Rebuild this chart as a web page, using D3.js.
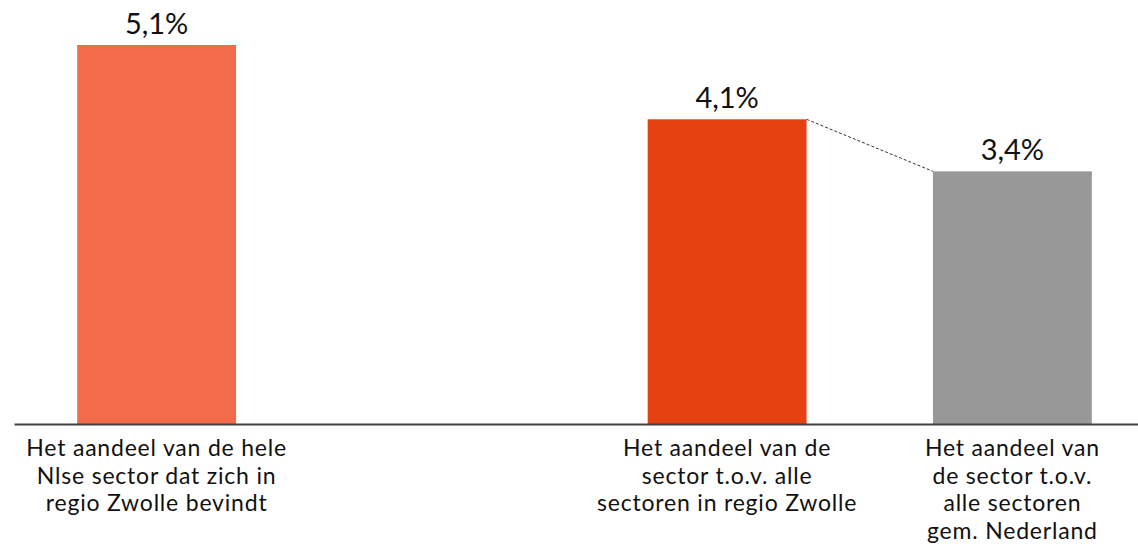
<!DOCTYPE html>
<html>
<head>
<meta charset="utf-8">
<script src="https://cdn.jsdelivr.net/npm/d3@7"></script>
<style>
  body { margin: 0; background: #fff; }
  svg { font-family: Lato, "Open Sans", sans-serif; }
</style>
</head>
<body>
<svg width="1138" height="552"></svg>
<script>
// data
const categories = ["hele", "gap", "zwolle", "nederland"];
const values = [5.1, null, 4.1, 3.4];
const valueLabels = ["5,1%", "", "4,1%", "3,4%"];
const barColors = ["#F26C4C", "none", "#E54111", "#989898"];
const labelLines = [
  ["Het aandeel van de hele", "Nlse sector dat zich in", "regio Zwolle bevindt"],
  [],
  ["Het aandeel van de", "sector t.o.v. alle", "sectoren in regio Zwolle"],
  ["Het aandeel van", "de sector t.o.v.", "alle sectoren", "gem. Nederland"]
];

let svg = d3.select("svg");
let baseY = 424;

let x = d3.scaleBand().domain(categories).range([14, 1155])
  .paddingInner(0.443).paddingOuter(0.2215);
let y = d3.scaleLinear().domain([0, 5.1]).range([baseY, 45]);

let rows = categories.map((c, i) => ({ cat: c, value: values[i], label: valueLabels[i], color: barColors[i], lines: labelLines[i] }))
  .filter(d => d.value != null);

svg.append("g")
  .selectAll("rect")
  .data(rows)
  .enter().append("rect")
  .attr("x", d => x(d.cat))
  .attr("y", d => y(d.value))
  .attr("width", x.bandwidth())
  .attr("height", d => baseY - y(d.value))
  .attr("fill", d => d.color);

// dashed connector between the last two bars
let a = rows[1], b = rows[2];
svg.append("line")
  .attr("x1", x(a.cat) + x.bandwidth())
  .attr("y1", y(a.value))
  .attr("x2", x(b.cat))
  .attr("y2", y(b.value))
  .attr("stroke", "#333")
  .attr("stroke-width", 1)
  .attr("stroke-dasharray", "3,2");

// value labels
svg.append("g")
  .selectAll("text")
  .data(rows)
  .enter().append("text")
  .attr("x", d => x(d.cat) + x.bandwidth() / 2)
  .attr("y", d => y(d.value) - 11)
  .attr("text-anchor", "middle")
  .attr("font-size", "29px")
  .attr("fill", "#111")
  .text(d => d.label);

// axis line
let xAxis = d3.axisBottom(x).tickSize(0).tickFormat("");
let ax = svg.append("g")
  .attr("transform", `translate(0, ${baseY})`)
  .call(xAxis);
ax.select(".domain").attr("stroke", "#404040").attr("stroke-width", 2);

// category labels
let lab = svg.append("g")
  .selectAll("text")
  .data(rows)
  .enter().append("text")
  .attr("x", d => x(d.cat) + x.bandwidth() / 2)
  .attr("y", baseY + 32)
  .attr("text-anchor", "middle")
  .attr("font-size", "23px")
  .attr("letter-spacing", "0.8px")
  .attr("fill", "#111");

lab.selectAll("tspan")
  .data(d => d.lines.map(t => ({ t: t, cx: x(d.cat) + x.bandwidth() / 2 })))
  .enter().append("tspan")
  .attr("x", t => t.cx)
  .attr("dy", (t, i) => i === 0 ? 0 : 27.7)
  .text(t => t.t);
</script>
</body>
</html>
